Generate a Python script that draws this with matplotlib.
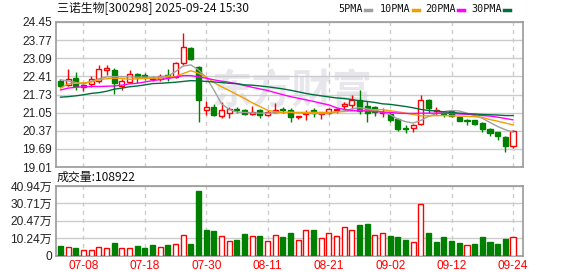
import matplotlib
matplotlib.use('Agg')
import matplotlib.pyplot as plt
from matplotlib.patches import Rectangle
from matplotlib.lines import Line2D

plt.rcParams['font.family'] = ['Liberation Sans', 'Noto Sans CJK SC']

dates = ['07-03', '07-04', '07-07', '07-08', '07-09', '07-10', '07-11', '07-14', '07-15', '07-16',
         '07-17', '07-18', '07-21', '07-22', '07-23', '07-24', '07-25', '07-28', '07-29', '07-30',
         '07-31', '08-01', '08-04', '08-05', '08-06', '08-07', '08-08', '08-11', '08-12', '08-13',
         '08-14', '08-15', '08-18', '08-19', '08-20', '08-21', '08-22', '08-25', '08-26', '08-27',
         '08-28', '08-29', '09-01', '09-02', '09-03', '09-04', '09-05', '09-08', '09-09', '09-10',
         '09-11', '09-12', '09-15', '09-16', '09-17', '09-18', '09-19', '09-22', '09-23', '09-24']

opens = [22.24, 22.09, 22.34, 22.00, 22.13, 22.24, 22.65, 22.65, 22.05, 22.21,
         22.50, 22.46, 22.36, 22.30, 22.47, 22.40, 22.93, 23.46, 22.78, 21.16,
         21.25, 20.94, 21.03, 21.18, 21.16, 21.01, 21.16, 20.97, 21.06, 21.18,
         21.16, 20.87, 21.00, 21.16, 21.00, 21.03, 21.15, 21.28, 21.32, 21.53,
         21.30, 21.25, 21.03, 21.00, 20.81, 20.47, 20.47, 20.62, 21.53, 21.11,
         21.02, 21.12, 20.87, 20.78, 20.76, 20.66, 20.44, 20.32, 20.13, 19.78]
highs = [22.30, 22.69, 22.59, 22.15, 22.43, 22.84, 22.84, 22.74, 22.30, 22.65,
         22.55, 22.55, 22.43, 22.50, 22.70, 22.96, 24.05, 23.53, 22.80, 21.50,
         21.38, 21.43, 21.26, 21.26, 21.18, 21.28, 21.18, 21.16, 21.40, 21.26,
         21.22, 20.94, 21.13, 21.24, 21.09, 21.22, 21.22, 21.44, 21.72, 21.90,
         21.47, 21.28, 21.22, 21.06, 20.84, 20.59, 20.63, 21.72, 21.55, 21.26,
         21.09, 21.16, 20.91, 20.81, 20.78, 20.69, 20.47, 20.34, 20.16, 20.41]
lows = [22.00, 22.05, 21.90, 21.88, 22.00, 22.15, 22.47, 21.74, 21.90, 22.15,
        22.15, 22.28, 22.22, 22.22, 22.22, 22.34, 22.84, 23.03, 20.68, 20.97,
        20.91, 20.84, 20.84, 21.03, 20.97, 20.97, 20.84, 20.91, 21.03, 21.03,
        20.68, 20.81, 20.79, 20.87, 20.82, 20.99, 21.03, 21.18, 21.18, 20.99,
        20.68, 20.91, 20.87, 20.69, 20.37, 20.28, 20.34, 20.57, 21.03, 20.97,
        20.87, 20.88, 20.72, 20.59, 20.59, 20.32, 20.19, 20.03, 19.56, 19.72]
closes = [22.05, 22.32, 22.05, 22.08, 22.30, 22.68, 22.72, 22.15, 22.24, 22.49,
          22.40, 22.38, 22.33, 22.43, 22.38, 22.90, 23.50, 23.05, 21.53, 21.25,
          20.97, 21.16, 21.17, 21.13, 21.01, 21.09, 20.97, 21.07, 21.16, 21.13,
          20.88, 20.92, 21.04, 21.03, 21.04, 21.17, 21.18, 21.37, 21.53, 21.12,
          21.03, 21.06, 21.07, 20.78, 20.45, 20.44, 20.58, 21.53, 21.24, 21.16,
          20.98, 20.91, 20.74, 20.75, 20.63, 20.44, 20.28, 20.16, 19.78, 20.37]

# volume in 万 (10k lots)
volumes = [5.5, 5.3, 4.3, 3.5, 3.5, 5.3, 4.3, 7.3, 4.7, 4.3,
           5.5, 4.3, 6.1, 5.3, 6.1, 6.7, 11.8, 6.7, 38.0, 15.0,
           14.4, 11.2, 8.5, 9.2, 12.6, 11.2, 11.4, 8.5, 11.8, 10.8,
           13.1, 9.1, 15.0, 15.0, 10.6, 13.0, 11.4, 16.5, 15.0, 17.9,
           18.5, 11.8, 13.0, 11.4, 10.8, 9.2, 7.7, 30.3, 13.2, 7.9,
           10.8, 8.5, 7.3, 5.9, 6.7, 10.8, 7.9, 6.7, 9.6, 10.89]
last_volume = 108922

ma5 = [22.28, 22.24, 22.18, 22.12, 22.22, 22.32, 22.39, 22.40, 22.40, 22.39,
       22.38, 22.38, 22.38, 22.39, 22.42, 22.59, 22.80, 22.84, 22.65, 22.37,
       21.90, 21.38, 21.17, 21.07, 21.06, 21.04, 21.03, 21.03, 21.04, 21.06,
       21.06, 21.04, 21.03, 21.02, 21.01, 21.03, 21.07, 21.12, 21.19, 21.24,
       21.19, 21.13, 21.07, 20.97, 20.81, 20.71, 20.66, 20.76, 20.91, 21.01,
       21.09, 21.13, 21.11, 21.03, 20.94, 20.84, 20.68, 20.53, 20.41, 20.32]
ma10 = [21.97, 22.13, 22.15, 22.17, 22.20, 22.28, 22.32, 22.34, 22.33, 22.30,
        22.32, 22.33, 22.34, 22.35, 22.39, 22.40, 22.52, 22.62, 22.53, 22.38,
        22.18, 22.02, 21.88, 21.73, 21.58, 21.42, 21.28, 21.14, 21.08, 21.06,
        21.06, 21.06, 21.06, 21.06, 21.06, 21.06, 21.08, 21.09, 21.12, 21.13,
        21.14, 21.16, 21.16, 21.12, 21.08, 21.03, 20.98, 20.93, 20.93, 20.94,
        20.94, 20.93, 20.92, 20.91, 20.90, 20.87, 20.79, 20.73, 20.66, 20.59]
ma20 = [21.90, 21.97, 22.00, 22.02, 22.03, 22.03, 22.04, 22.05, 22.08, 22.13,
        22.15, 22.20, 22.25, 22.29, 22.33, 22.38, 22.44, 22.44, 22.39, 22.34,
        22.28, 22.23, 22.19, 22.13, 22.07, 22.00, 21.94, 21.88, 21.80, 21.72,
        21.65, 21.59, 21.53, 21.47, 21.40, 21.34, 21.23, 21.17, 21.13, 21.12,
        21.11, 21.09, 21.07, 21.06, 21.03, 21.02, 21.02, 21.03, 21.03, 21.03,
        21.03, 21.02, 21.00, 20.99, 20.97, 20.94, 20.92, 20.88, 20.83, 20.78]
ma30 = [21.63, 21.65, 21.68, 21.72, 21.77, 21.80, 21.85, 21.93, 21.97, 22.02,
        22.05, 22.09, 22.14, 22.15, 22.17, 22.19, 22.22, 22.25, 22.24, 22.22,
        22.20, 22.18, 22.15, 22.14, 22.09, 22.08, 22.05, 22.02, 21.98, 21.94,
        21.89, 21.83, 21.77, 21.72, 21.68, 21.64, 21.60, 21.58, 21.54, 21.49,
        21.47, 21.43, 21.38, 21.36, 21.32, 21.28, 21.23, 21.17, 21.13, 21.11,
        21.08, 21.06, 21.03, 21.01, 21.00, 20.98, 20.97, 20.96, 20.94, 20.94]

price_ticks = [19.01, 19.69, 20.37, 21.05, 21.73, 22.41, 23.09, 23.77, 24.45]
vol_ticks = [0, 10.24, 20.47, 30.71, 40.94]
date_ticks = ['07-08', '07-18', '07-30', '08-11', '08-21', '09-02', '09-12', '09-24']

RED = '#ff0000'
GREEN = '#008000'
GRID = '#cccccc'
FRAME = '#999999'
ma_list = [('5PMA', ma5, '#a0a0a0'), ('10PMA', ma10, '#f0a000'),
           ('20PMA', ma20, '#ff00ff'), ('30PMA', ma30, '#006f3c')]

W, H = 578, 276
fig = plt.figure(figsize=(W / 100, H / 100), dpi=100)
ax = fig.add_axes([55.5 / W, 1 - 167 / H, 467 / W, 145 / H])
axv = fig.add_axes([55.5 / W, 1 - 255.5 / H, 467 / W, 69.5 / H])

n = len(dates)
xs = list(range(n))
bw = 0.66
tick_idx = [dates.index(d) for d in date_ticks]

# watermark
ax.text(0.506, 0.52, '东方财富', transform=ax.transAxes, fontsize=29, color='#e6e6ec',
        ha='center', va='center', family='Noto Sans CJK SC', fontweight='bold', zorder=0)

for i in xs:
    o, h, l, c = opens[i], highs[i], lows[i], closes[i]
    up = c >= o
    col = RED if up else GREEN
    ax.vlines(i, l, h, color=col, lw=1, zorder=3)
    ax.add_patch(Rectangle((i - bw / 2, min(o, c)), bw, max(abs(c - o), 0.012),
                           facecolor='white' if up else col, edgecolor=col, lw=1, zorder=4))

for name, vals, col in ma_list:
    ax.plot(xs, vals, color=col, lw=1, zorder=5)

for i in xs:
    up = closes[i] >= (closes[i - 1] if i > 0 else opens[i])
    col = RED if up else GREEN
    axv.add_patch(Rectangle((i - bw / 2, 0), bw, volumes[i],
                            facecolor='white' if up else col, edgecolor=col, lw=1, zorder=3))

for a, ticks in ((ax, price_ticks), (axv, vol_ticks)):
    a.set_xlim(-0.65, n + 0.24)
    a.set_ylim(ticks[0], ticks[-1])
    a.set_yticks(ticks)
    a.yaxis.grid(True, color=GRID, lw=1, zorder=1)
    for t in tick_idx:
        a.axvline(t, color=GRID, lw=1, dashes=(3, 3), zorder=1)
    for s in a.spines.values():
        s.set_color(FRAME)
        s.set_linewidth(1.2)
    a.tick_params(length=0, pad=2.5, labelsize=8.6, colors='#222222')
    a.set_xticks(tick_idx)

ax.set_yticklabels([f'{v:.2f}' for v in price_ticks])
ax.set_xticklabels([])
axv.set_yticklabels(['0'] + [f'{v:.2f}万' for v in vol_ticks[1:]])
axv.set_xticklabels(date_ticks, color=RED)
axv.tick_params(axis='x', pad=3)

fig.text(57 / W, 1 - 9 / H, '三诺生物[300298] 2025-09-24 15:30', fontsize=8.6,
         family='Noto Sans CJK SC', va='center', ha='left', color='#111111')
fig.text(57 / W, 1 - 177 / H, f'成交量:{last_volume}', fontsize=8.6,
         family='Noto Sans CJK SC', va='center', ha='left', color='#111111')

# legend
leg_x = [338, 380, 425, 471]
for (name, vals, col), lx in zip(ma_list, leg_x):
    fig.text(lx / W, 1 - 9 / H, name, fontsize=7.3, family='DejaVu Sans Mono',
             va='center', ha='left', color='#111111')
    ex = lx + 6 * len(name) + 3
    fig.add_artist(Line2D([ex / W, (ex + 6) / W], [1 - 9.5 / H, 1 - 9.5 / H],
                          color=col, lw=2.5, transform=fig.transFigure))

fig.savefig('out.png', dpi=100, facecolor='white')
